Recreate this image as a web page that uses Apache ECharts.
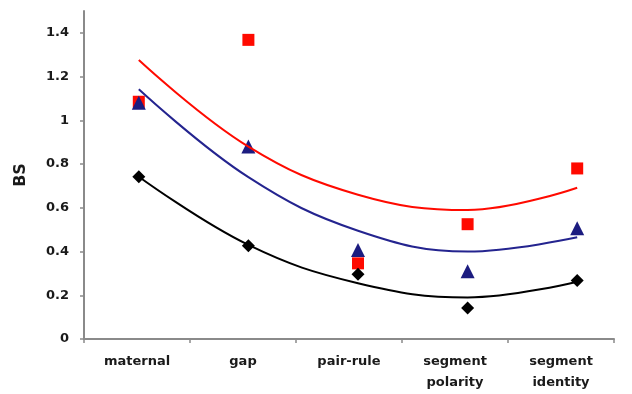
<!DOCTYPE html>
<html>
<head>
<meta charset="utf-8">
<script src="https://cdn.jsdelivr.net/npm/echarts@6/dist/echarts.min.js"></script>
<style>
html,body{margin:0;padding:0;background:#fff;}
#chart{width:632px;height:394px;}
</style>
</head>
<body>
<div id="chart"></div>
<script>
// Categories and tick labels
var categories = ['maternal', 'gap', 'pair-rule', 'segment\npolarity', 'segment\nidentity'];
var yTickValues = [0, 0.2, 0.4, 0.6, 0.8, 1, 1.2, 1.4];

// Data points (BS values)
var redSquares = [1.085, 1.368, 0.346, 0.525, 0.78];
var blueTriangles = [1.08, 0.88, 0.407, 0.31, 0.506];
var blackDiamonds = [0.742, 0.427, 0.296, 0.142, 0.267];

// Trend lines (values read at each category)
var redTrend = [1.276, 0.88, 0.66, 0.59, 0.692];
var blueTrend = [1.142, 0.74, 0.495, 0.40, 0.465];
var blackTrend = [0.742, 0.43, 0.255, 0.19, 0.262];

var FONT = 'DejaVu Sans';
var chart = echarts.init(document.getElementById('chart'), null, {renderer: 'canvas'});
var axisGrey = '#8a8a8a';

chart.setOption({
  animation: false,
  grid: [
    {left: 84, right: 18, top: 11, bottom: 55},
    {left: 84, right: 0, top: 11, bottom: 55}
  ],
  xAxis: [
    {
      gridIndex: 0, type: 'category', data: categories, boundaryGap: true,
      axisLine: {lineStyle: {color: axisGrey, width: 2}},
      axisTick: {show: true, length: 4, lineStyle: {color: axisGrey, width: 1.5}},
      axisLabel: {fontFamily: FONT, fontWeight: 'bold', fontSize: 13, color: '#1a1a1a', margin: 12, lineHeight: 21, interval: 0}
    },
    {
      gridIndex: 1, type: 'category', data: categories, boundaryGap: true, show: false
    }
  ],
  yAxis: [
    {
      gridIndex: 0, type: 'value', min: 0, max: 1.5,
      name: 'BS', nameLocation: 'middle', nameGap: 55, nameRotate: 90,
      nameTextStyle: {fontFamily: FONT, fontWeight: 'bold', fontSize: 16, color: '#1a1a1a'},
      axisLine: {show: true, lineStyle: {color: axisGrey, width: 2}},
      axisTick: {show: true, length: 4, customValues: yTickValues, lineStyle: {color: axisGrey, width: 1.5}},
      axisLabel: {fontFamily: FONT, fontWeight: 'bold', fontSize: 13, color: '#1a1a1a', margin: 15, customValues: yTickValues},
      splitLine: {show: false}
    },
    {
      gridIndex: 1, type: 'value', min: 0, max: 1.5, show: false, splitLine: {show: false}
    }
  ],
  series: [
    {type: 'scatter', xAxisIndex: 1, yAxisIndex: 1, data: redSquares, symbol: 'rect', symbolSize: 12, itemStyle: {color: '#ff0a00', opacity: 1}, z: 2},
    {type: 'scatter', xAxisIndex: 1, yAxisIndex: 1, data: blueTriangles, symbol: 'triangle', symbolSize: 14, itemStyle: {color: '#1c1c80', opacity: 1}, z: 3},
    {type: 'scatter', xAxisIndex: 1, yAxisIndex: 1, data: blackDiamonds, symbol: 'diamond', symbolSize: 13, itemStyle: {color: '#000', opacity: 1}, z: 4},
    {type: 'line', xAxisIndex: 1, yAxisIndex: 1, data: redTrend, smooth: 0.4, showSymbol: false, symbol: 'none', lineStyle: {color: '#ff0a00', width: 2}, z: 5},
    {type: 'line', xAxisIndex: 1, yAxisIndex: 1, data: blueTrend, smooth: 0.4, showSymbol: false, symbol: 'none', lineStyle: {color: '#24248f', width: 2}, z: 5},
    {type: 'line', xAxisIndex: 1, yAxisIndex: 1, data: blackTrend, smooth: 0.4, showSymbol: false, symbol: 'none', lineStyle: {color: '#000', width: 2}, z: 5}
  ]
});
</script>
</body>
</html>
